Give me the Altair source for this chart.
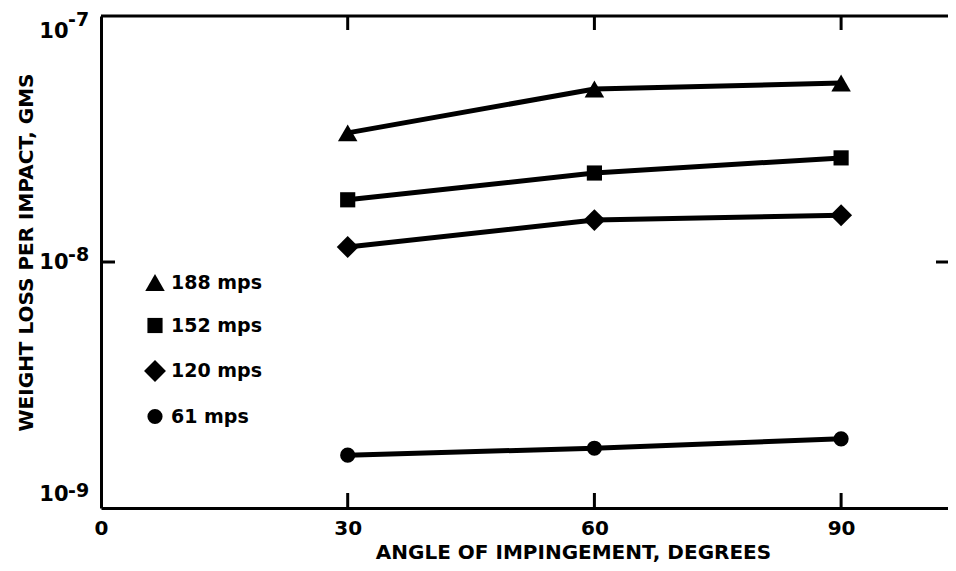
import altair as alt
import pandas as pd

# ---- data ----
angles = [30, 60, 90]
series_names = ["188 mps", "152 mps", "120 mps", "61 mps"]
loss_188 = [3.35e-8, 5.05e-8, 5.34e-8]
loss_152 = [1.79e-8, 2.30e-8, 2.65e-8]
loss_120 = [1.15e-8, 1.48e-8, 1.55e-8]
loss_61 = [1.64e-9, 1.75e-9, 1.91e-9]
shapes = ["triangle-up", "square", "diamond", "circle"]
marker_sizes = [380, 230, 480, 230]
x_tick_values = [0, 30, 60, 90]
x_inner_ticks = [30, 60, 90]
y_tick_values = [1e-9, 1e-8, 1e-7]
y_exponents = ["-9", "-8", "-7"]
y_exp_baselines = ["bottom", "middle", "top"]
y_inner_ticks = [1e-8]

rows = []
for name, vals in zip(series_names, [loss_188, loss_152, loss_120, loss_61]):
    for a, v in zip(angles, vals):
        rows.append({"angle": a, "value": v, "series": name})
df = pd.DataFrame(rows)

W, H = 847, 492
FONT = "DejaVu Sans"

x_enc = alt.X(
    "angle:Q",
    scale=alt.Scale(domain=[0, 103], nice=False, zero=False),
    axis=alt.Axis(
        values=x_tick_values, title="ANGLE OF IMPINGEMENT, DEGREES",
        ticks=False, grid=False, domainWidth=3, domainColor="black",
        labelFont=FONT, labelFontSize=20, labelFontWeight="bold", labelColor="black",
        labelPadding=10, labelFlush=False, format="d",
        titleFont=FONT, titleFontSize=20, titleFontWeight="bold", titleColor="black",
        titleX=472, titleY=44, titleBaseline="middle", titleAnchor="middle", titleAlign="center",
    ),
)
y_enc = alt.Y(
    "value:Q",
    scale=alt.Scale(type="log", domain=[1e-9, 1e-7], nice=False),
    axis=alt.Axis(
        values=y_tick_values,
        labelExpr="'10'",
        title="WEIGHT LOSS PER IMPACT, GMS",
        ticks=False, grid=False, domainWidth=3, domainColor="black",
        labelFont=FONT, labelFontSize=21, labelFontWeight="bold", labelColor="black",
        labelPadding=33, labelFlush=True, labelFlushOffset=-4,
        titleFont=FONT, titleFontSize=20, titleFontWeight="bold", titleColor="black",
        titleX=-75, titleY=236, titleBaseline="middle", titleAngle=270,
    ),
)

base = alt.Chart(df)

lines = base.mark_line(color="black", strokeWidth=5).encode(
    x=x_enc, y=y_enc, detail="series:N"
)

legend = alt.Legend(
    title=None, orient="none", legendX=42, legendY=256,
    labelFont=FONT, labelFontSize=19, labelFontWeight="bold", labelColor="black",
    symbolFillColor="black", symbolStrokeColor="black", symbolOpacity=1,
    rowPadding=20, labelOffset=4, padding=0,
)

points = base.mark_point(filled=True, color="black", opacity=1).encode(
    x=x_enc, y=y_enc,
    shape=alt.Shape("series:N", scale=alt.Scale(domain=series_names, range=shapes), legend=legend),
    size=alt.Size("series:N", scale=alt.Scale(type="ordinal", domain=series_names, range=marker_sizes), legend=legend),
)

# frame top edge
top_edge = alt.Chart(pd.DataFrame({"k": [0]})).mark_rule(color="black", strokeWidth=3).encode(
    x=alt.value(0), x2=alt.value(W), y=alt.value(0)
)

xt = pd.DataFrame({"angle": x_inner_ticks})
x_ticks_bottom = alt.Chart(xt).mark_rule(color="black", strokeWidth=3).encode(
    x=x_enc, y=alt.value(H - 15), y2=alt.value(H)
)
x_ticks_top = alt.Chart(xt).mark_rule(color="black", strokeWidth=3).encode(
    x=x_enc, y=alt.value(0), y2=alt.value(14)
)
yt = pd.DataFrame({"value": y_inner_ticks})
y_tick_left = alt.Chart(yt).mark_rule(color="black", strokeWidth=3).encode(
    y=y_enc, x=alt.value(0), x2=alt.value(14)
)
y_tick_right = alt.Chart(yt).mark_rule(color="black", strokeWidth=3).encode(
    y=y_enc, x=alt.value(W - 12), x2=alt.value(W)
)

# exponents of the y tick labels (10^-9, 10^-8, 10^-7)
exp_layers = []
for val, ex, bl in zip(y_tick_values, y_exponents, y_exp_baselines):
    exp_layers.append(
        alt.Chart(pd.DataFrame({"value": [val], "exp": [ex]})).mark_text(
            font=FONT, fontSize=19, fontWeight="bold", color="black",
            align="left", baseline=bl, dy=(-5 if bl == "top" else -7),
        ).encode(y=y_enc, x=alt.value(-33), text="exp:N")
    )

chart = alt.layer(
    top_edge, x_ticks_bottom, x_ticks_top, y_tick_left, y_tick_right,
    *exp_layers, lines, points
).properties(
    width=W, height=H,
    autosize=alt.AutoSizeParams(type="none"),
    padding={"left": 93, "top": 8, "right": 0, "bottom": 55},
    background="white",
).configure_view(stroke=None)

chart.save("out.html", embed_options={"renderer": "svg", "actions": False})
